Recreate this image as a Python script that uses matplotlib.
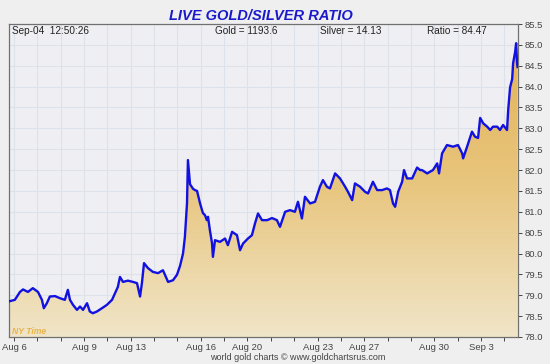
import numpy as np
import matplotlib
matplotlib.use("Agg")
import matplotlib.pyplot as plt
from matplotlib.colors import LinearSegmentedColormap
from matplotlib.patches import Polygon

# ---- data (trading-day index, ratio) ----
days = [-0.24, 0.04, 0.26, 0.39, 0.60, 0.81, 1.03, 1.20, 1.28, 1.41, 1.54, 1.76, 1.97,
        2.18, 2.31, 2.40, 2.53, 2.70, 2.83, 2.96, 3.13, 3.25, 3.38, 3.55, 3.77, 3.98,
        4.20, 4.33, 4.45, 4.54, 4.67, 4.88, 5.10, 5.27, 5.40, 5.48, 5.57, 5.74, 5.95,
        6.17, 6.38, 6.60, 6.81, 6.98, 7.11, 7.24, 7.32, 7.41, 7.45, 7.54, 7.67, 7.75,
        7.84, 7.97, 8.09, 8.18, 8.26, 8.31, 8.39, 8.48, 8.52, 8.61, 8.82, 9.04, 9.16,
        9.34, 9.55, 9.68, 9.81, 10.02, 10.19, 10.32, 10.45, 10.62, 10.84, 11.05, 11.26,
        11.39, 11.61, 11.82, 12.03, 12.16, 12.33, 12.46, 12.68, 12.89, 13.10, 13.23,
        13.40, 13.53, 13.75, 13.96, 14.18, 14.30, 14.48, 14.60, 14.82, 15.03, 15.16,
        15.37, 15.55, 15.76, 15.97, 16.10, 16.23, 16.32, 16.45, 16.62, 16.70, 16.83,
        17.05, 17.26, 17.39, 17.47, 17.69, 17.94, 18.12, 18.20, 18.33, 18.54, 18.80,
        19.01, 19.19, 19.23, 19.40, 19.61, 19.74, 19.87, 19.96, 20.09, 20.26, 20.39,
        20.51, 20.69, 20.81, 20.94, 21.11, 21.16, 21.24, 21.33, 21.37, 21.46, 21.50,
        21.54, 21.56]
ratio = [78.85, 78.89, 79.08, 79.14, 79.08, 79.17, 79.08, 78.89, 78.69, 78.81, 78.97, 78.98, 78.93,
         78.89, 79.13, 78.89, 78.77, 78.65, 78.73, 78.65, 78.81, 78.61, 78.57, 78.61, 78.69, 78.77,
         78.89, 79.05, 79.20, 79.44, 79.32, 79.35, 79.32, 79.29, 78.97, 79.29, 79.77, 79.65, 79.56,
         79.53, 79.60, 79.32, 79.36, 79.49, 79.70, 80.00, 80.40, 81.20, 82.24, 81.66, 81.55, 81.52,
         81.50, 81.20, 80.97, 80.92, 80.80, 80.88, 80.56, 80.25, 79.92, 80.32, 80.28, 80.36, 80.20,
         80.52, 80.44, 80.08, 80.24, 80.36, 80.44, 80.72, 80.96, 80.80, 80.80, 80.85, 80.80,
         80.64, 81.00, 81.04, 81.00, 81.24, 80.84, 81.36, 81.20, 81.24, 81.60, 81.76,
         81.60, 81.56, 81.92, 81.80, 81.60, 81.48, 81.28, 81.68, 81.60, 81.48, 81.44,
         81.72, 81.52, 81.52, 81.56, 81.52, 81.20, 81.12, 81.48, 81.72, 82.00, 81.80,
         81.80, 82.06, 82.00, 82.00, 81.92, 82.00, 82.16, 81.92, 82.40, 82.60, 82.56,
         82.60, 82.40, 82.28, 82.56, 82.92, 82.80, 82.77, 83.25, 83.12, 83.04, 82.96,
         83.04, 83.04, 82.96, 83.08, 82.96, 83.44, 83.98, 84.18, 84.56, 84.84, 85.04,
         84.56, 84.47]

tick_days = list(range(0, 22))
label_days = [0, 3, 5, 8, 10, 13, 15, 18, 20]
label_text = ["Aug 6", "Aug 9", "Aug 13", "Aug 16", "Aug 20", "Aug 23", "Aug 27", "Aug 30", "Sep 3"]
y_ticks = [78.0, 78.5, 79.0, 79.5, 80.0, 80.5, 81.0, 81.5, 82.0, 82.5, 83.0, 83.5, 84.0, 84.5, 85.0, 85.5]

title = "LIVE GOLD/SILVER RATIO"
header = ["Sep-04  12:50:26", "Gold = 1193.6", "Silver = 14.13", "Ratio = 84.47"]
footer = "world gold charts \u00a9 www.goldchartsrus.com"

plt.rcParams['font.family'] = ['Liberation Sans', 'DejaVu Sans']

fig = plt.figure(figsize=(5.5, 3.64), dpi=100, facecolor='#efefef')
ax = fig.add_axes([9/550, 1-337/364, (518-9)/550, (337-24)/364])
ax.set_facecolor('#efeff3')

ymin, ymax = 78.0, 85.5
xmin, xmax = -0.21, 21.58
ax.set_xlim(xmin, xmax)
ax.set_ylim(ymin, ymax)

# grid
for d in tick_days:
    ax.axvline(d, color='#dde1ea', lw=0.8, zorder=0)
for yv in y_ticks:
    ax.axhline(yv, color='#dde1ea', lw=0.8, zorder=0)

# gradient fill under the line
cmap = LinearSegmentedColormap.from_list('gold', ['#f0e5c8', '#e8c57c', '#e2b055'])
grad = np.linspace(0, 1, 256).reshape(-1, 1)
im = ax.imshow(grad, extent=[xmin, xmax, ymin, ymax], origin='lower', aspect='auto',
               cmap=cmap, zorder=1)
verts = [(days[0], ymin)] + list(zip(days, ratio)) + [(days[-1], ymin)]
poly = Polygon(verts, closed=True, transform=ax.transData, facecolor='none', edgecolor='none')
ax.add_patch(poly)
im.set_clip_path(poly)

ax.plot(days, ratio, color='#1212e0', lw=1.7, zorder=3)

# axes styling
ax.yaxis.tick_right()
ax.set_yticks(y_ticks)
ax.set_yticklabels([f"{v:.1f}" for v in y_ticks])
ax.set_xticks(tick_days)
ax.set_xticklabels([label_text[label_days.index(d)] if d in label_days else "" for d in tick_days])
ax.tick_params(axis='both', labelsize=6.8, colors='#444444', length=3, width=0.7, direction='out')
ax.tick_params(axis='x', pad=1.5)
ax.tick_params(axis='y', pad=2)
for s in ax.spines.values():
    s.set_color('#707070')
    s.set_linewidth(0.9)

# texts
fig.text(261/550, 1-16/364, title, ha='center', va='center', fontsize=10.5,
         fontweight='bold', fontstyle='italic', color='#1a1acc')
hy = 1-31/364
fig.text(12/550, hy, header[0], ha='left', va='center', fontsize=7.2, color='#222222')
fig.text(215/550, hy, header[1], ha='left', va='center', fontsize=7.2, color='#222222')
fig.text(320/550, hy, header[2], ha='left', va='center', fontsize=7.2, color='#222222')
fig.text(427/550, hy, header[3], ha='left', va='center', fontsize=7.2, color='#222222')
fig.text(12/550, 1-331/364, "NY Time", ha='left', va='center', fontsize=6.2,
         fontstyle='italic', fontweight='bold', color='#e8b44a')
fig.text(298/550, 1-357.5/364, footer, ha='center', va='center', fontsize=6.5, color='#444444')

fig.savefig('out.png', dpi=100, facecolor=fig.get_facecolor())
